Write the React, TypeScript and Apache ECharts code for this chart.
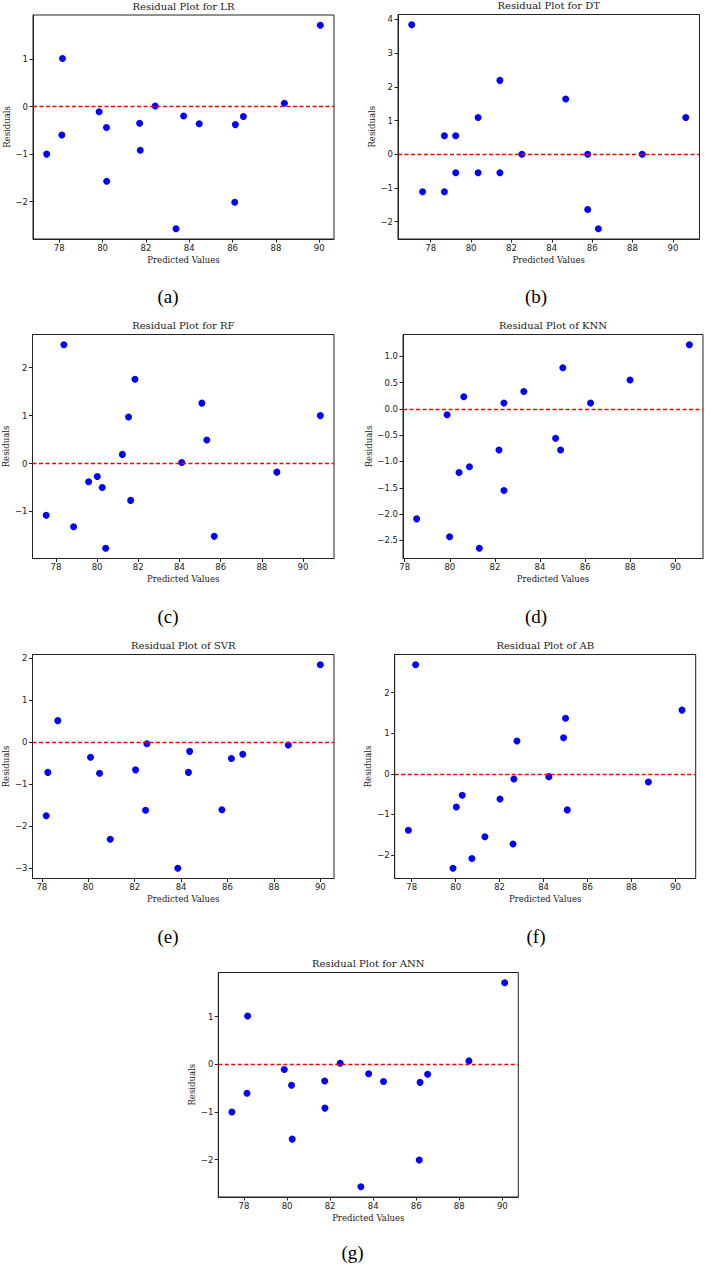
import React, { useEffect, useRef } from "react";
import * as echarts from "echarts";

// ---------- data ----------
const lrPred = [77.42, 78.15, 78.12, 79.84, 80.18, 80.19, 81.71, 81.74, 82.43, 83.39, 83.74, 84.46, 86.13, 86.1, 86.5, 88.39, 90.05];
const lrResid = [-1.0, 1.01, -0.6, -0.11, -0.44, -1.57, -0.35, -0.92, 0.01, -2.57, -0.2, -0.36, -0.38, -2.01, -0.21, 0.07, 1.71];

const dtPred = [77.06, 77.6, 78.68, 78.68, 79.24, 79.24, 80.35, 80.35, 81.43, 81.43, 82.52, 84.69, 85.78, 85.78, 86.31, 88.48, 90.64];
const dtResid = [3.84, -1.11, 0.55, -1.11, 0.55, -0.55, 1.09, -0.55, 2.19, -0.55, 0.0, 1.64, 0.0, -1.64, -2.21, 0.0, 1.09];

const rfPred = [77.53, 78.39, 78.86, 79.59, 80.01, 80.25, 80.42, 81.23, 81.53, 81.63, 81.84, 84.11, 85.09, 85.33, 85.69, 88.73, 90.84];
const rfResid = [-1.08, 2.48, -1.32, -0.38, -0.27, -0.5, -1.77, 0.19, 0.97, -0.77, 1.76, 0.02, 1.26, 0.49, -1.52, -0.18, 1.0];

const knnPred = [78.53, 79.88, 79.99, 80.41, 80.62, 80.87, 81.31, 82.18, 82.4, 82.4, 83.28, 84.69, 84.91, 85.01, 86.24, 87.99, 90.62];
const knnResid = [-2.09, -0.11, -2.43, -1.21, 0.23, -1.1, -2.65, -0.78, 0.11, -1.55, 0.33, -0.56, -0.78, 0.78, 0.11, 0.55, 1.22];

const svrPred = [78.19, 78.26, 78.69, 80.1, 80.49, 80.95, 82.04, 82.47, 82.53, 83.86, 84.32, 84.37, 85.76, 86.17, 86.66, 88.62, 90.0];
const svrResid = [-1.75, -0.72, 0.51, -0.36, -0.74, -2.31, -0.66, -1.62, -0.04, -3.0, -0.72, -0.22, -1.61, -0.39, -0.29, -0.07, 1.84];

const abPred = [77.85, 78.18, 79.88, 80.03, 80.3, 80.74, 81.33, 82.02, 82.61, 82.65, 82.79, 84.24, 84.91, 85.0, 85.08, 88.77, 90.3];
const abResid = [-1.39, 2.69, -2.33, -0.82, -0.53, -2.09, -1.55, -0.62, -1.73, -0.13, 0.81, -0.07, 0.89, 1.37, -0.89, -0.2, 1.57];

const annPred = [77.44, 78.17, 78.14, 79.87, 80.21, 80.24, 81.75, 81.76, 82.47, 83.43, 83.79, 84.48, 86.18, 86.14, 86.53, 88.45, 90.11];
const annResid = [-1.0, 1.01, -0.61, -0.11, -0.44, -1.57, -0.35, -0.92, 0.02, -2.57, -0.2, -0.36, -0.38, -2.01, -0.21, 0.07, 1.71];

const xTicks = [78, 80, 82, 84, 86, 88, 90];
const lrYTicks = [-2, -1, 0, 1];
const dtYTicks = [-2, -1, 0, 1, 2, 3, 4];
const rfYTicks = [-1, 0, 1, 2];
const knnYTicks = [-2.5, -2, -1.5, -1, -0.5, 0, 0.5, 1];
const svrYTicks = [-3, -2, -1, 0, 1, 2];
const abYTicks = [-2, -1, 0, 1, 2];
const annYTicks = [-2, -1, 0, 1];

const titles = [
  "Residual Plot for LR",
  "Residual Plot for DT",
  "Residual Plot for RF",
  "Residual Plot of KNN",
  "Residual Plot of SVR",
  "Residual Plot of AB",
  "Residual Plot for ANN",
];
const captions = ["(a)", "(b)", "(c)", "(d)", "(e)", "(f)", "(g)"];
const xLabel = "Predicted Values";
const yLabel = "Residuals";

// ---------- layout ----------
const panels = [
  { pred: lrPred, resid: lrResid, yTicks: lrYTicks, dec: 0, left: 33, top: 15, width: 301, height: 224, yGap: 22, capX: 168, capY: 296 },
  { pred: dtPred, resid: dtResid, yTicks: dtYTicks, dec: 0, left: 398, top: 14.5, width: 301.5, height: 224.5, yGap: 22, capX: 536, capY: 296 },
  { pred: rfPred, resid: rfResid, yTicks: rfYTicks, dec: 0, left: 32.5, top: 334.5, width: 301.5, height: 224, yGap: 22, capX: 168, capY: 616 },
  { pred: knnPred, resid: knnResid, yTicks: knnYTicks, dec: 1, left: 403, top: 334.5, width: 300, height: 224, yGap: 30, capX: 536, capY: 616 },
  { pred: svrPred, resid: svrResid, yTicks: svrYTicks, dec: 0, left: 32.5, top: 654.5, width: 301.5, height: 224, yGap: 22, capX: 168, capY: 936 },
  { pred: abPred, resid: abResid, yTicks: abYTicks, dec: 0, left: 394.7, top: 654.5, width: 301, height: 224, yGap: 22, capX: 536, capY: 936 },
  { pred: annPred, resid: annResid, yTicks: annYTicks, dec: 0, left: 218.3, top: 972.5, width: 300, height: 224.5, yGap: 22, capX: 352.5, capY: 1252 },
];

const INK = "#222";
const pad = (arr: number[]) => {
  const lo = Math.min(...arr);
  const hi = Math.max(...arr);
  const m = (hi - lo) * 0.05;
  return [lo - m, hi + m];
};
const fmt = (dec: number) => (v: number) => {
  const s = Math.abs(v).toFixed(dec);
  return v < 0 ? "\u2212" + s : s;
};

function buildOption() {
  const grid: any[] = [];
  const xAxis: any[] = [];
  const yAxis: any[] = [];
  const series: any[] = [];
  const graphic: any[] = [];

  panels.forEach((p, i) => {
    const [xMin, xMax] = pad(p.pred);
    const [yMin, yMax] = pad(p.resid);
    grid.push({
      left: p.left,
      top: p.top,
      width: p.width,
      height: p.height,
      show: true,
      borderColor: INK,
      borderWidth: 1,
      backgroundColor: "transparent",
    });
    xAxis.push({
      type: "value",
      gridIndex: i,
      min: xMin,
      max: xMax,
      splitLine: { show: false },
      axisLine: { show: true, onZero: false, lineStyle: { color: INK, width: 1 } },
      axisTick: { show: true, inside: false, length: 3.5, customValues: xTicks, lineStyle: { color: INK, width: 1 } },
      axisLabel: {
        customValues: xTicks,
        formatter: fmt(0),
        fontSize: 8.5,
        fontFamily: "DejaVu Sans",
        color: INK,
        margin: 4,
      },
      name: xLabel,
      nameLocation: "middle",
      nameGap: 16,
      nameTextStyle: { fontFamily: "DejaVu Serif", fontSize: 8.5, color: INK },
    });
    yAxis.push({
      type: "value",
      gridIndex: i,
      min: yMin,
      max: yMax,
      splitLine: { show: false },
      axisLine: { show: true, onZero: false, lineStyle: { color: INK, width: 1 } },
      axisTick: { show: true, inside: false, length: 3.5, customValues: p.yTicks, lineStyle: { color: INK, width: 1 } },
      axisLabel: {
        customValues: p.yTicks,
        formatter: fmt(p.dec),
        fontSize: 8.5,
        fontFamily: "DejaVu Sans",
        color: INK,
        margin: 5,
      },
      name: yLabel,
      nameLocation: "middle",
      nameGap: p.yGap,
      nameRotate: 90,
      nameTextStyle: { fontFamily: "DejaVu Serif", fontSize: 8.5, color: INK },
    });
    series.push({
      type: "scatter",
      xAxisIndex: i,
      yAxisIndex: i,
      symbol: "circle",
      symbolSize: 7,
      itemStyle: { color: "#0000ff", opacity: 1 },
      data: p.pred.map((x, k) => [x, p.resid[k]]),
      markLine: {
        silent: true,
        symbol: ["none", "none"],
        label: { show: false },
        lineStyle: { color: "#ff0000", type: [4, 2.5], width: 1.3 },
        emphasis: { disabled: true },
        data: [{ yAxis: 0 }],
      },
    });
    graphic.push({
      type: "text",
      x: p.left + p.width / 2,
      y: p.top - 9,
      style: {
        text: titles[i],
        fill: "#222",
        font: "10px 'DejaVu Serif'",
        textAlign: "center",
        textVerticalAlign: "middle",
        verticalAlign: "middle",
      },
    });
    graphic.push({
      type: "text",
      x: p.capX,
      y: p.capY,
      style: {
        text: captions[i],
        fill: "#000",
        font: "19px 'Liberation Serif'",
        textAlign: "center",
        textVerticalAlign: "middle",
        verticalAlign: "middle",
      },
    });
  });

  return {
    animation: false,
    backgroundColor: "#ffffff",
    grid,
    xAxis,
    yAxis,
    series,
    graphic,
  };
}

export default function App() {
  const ref = useRef<HTMLDivElement>(null);
  useEffect(() => {
    if (!ref.current) return;
    const chart = echarts.init(ref.current, undefined, { renderer: "svg" });
    chart.setOption(buildOption() as any);
    return () => chart.dispose();
  }, []);
  return (
    <div
      ref={ref}
      style={{ position: "absolute", left: 0, top: 0, width: 706, height: 1264, background: "#fff" }}
    />
  );
}
